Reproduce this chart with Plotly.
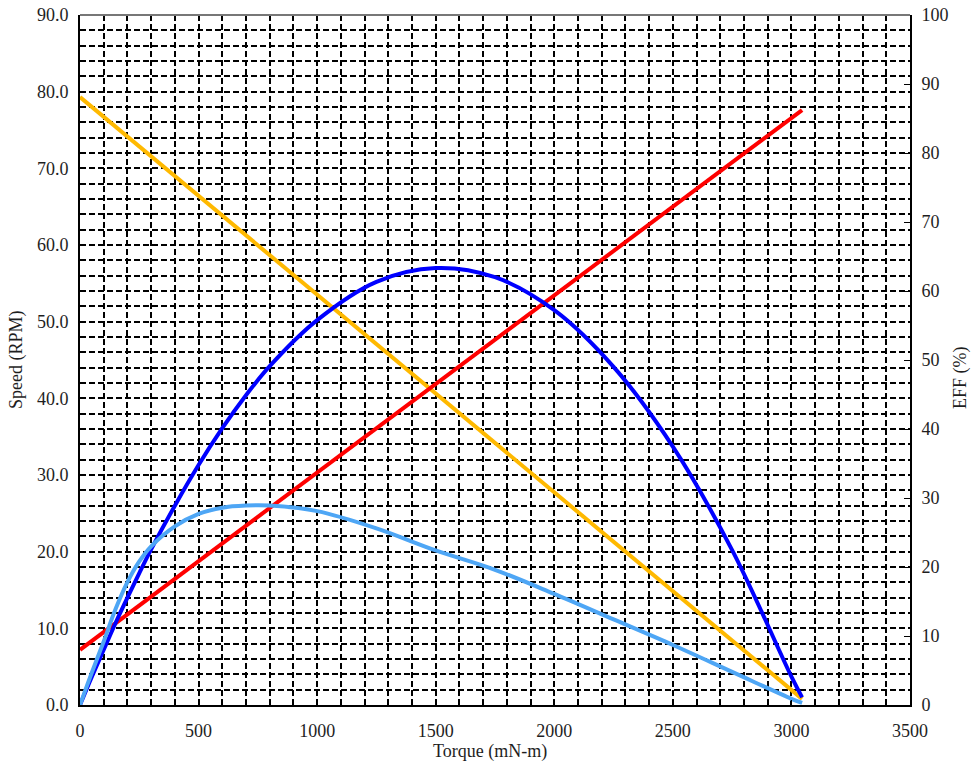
import plotly.graph_objects as go

# ---- data ----
torque_line = [0, 3045]
speed_rpm = [79.3, 0.8]          # orange, left axis
red_series = [7.2, 77.6]         # red, left axis

torque = [0, 50, 100, 150, 200, 250, 300, 400, 500, 600, 700, 800,
          1000, 1250, 1500, 1750, 2000, 2250, 2500, 2750, 3000, 3045]
power = [0, 3.7, 7.2, 10.7, 14.0, 17.2, 20.3, 26.0, 31.3, 36.1, 40.4, 44.2,
         50.2, 55.2, 57.0, 55.8, 51.5, 44.1, 33.7, 20.2, 3.7, 1.0]   # dark blue, left axis
eff_pct = [0, 4.7, 9.2, 13.9, 17.8, 20.8, 23.0, 25.9, 27.7, 28.6, 28.9, 28.9,
           28.1, 25.6, 22.4, 19.6, 16.1, 12.4, 8.7, 4.8, 0.9, 0.3]  # light blue, right axis

x_ticks = [0, 500, 1000, 1500, 2000, 2500, 3000, 3500]
left_ticks = [0, 10, 20, 30, 40, 50, 60, 70, 80, 90]
right_ticks = [0, 10, 20, 30, 40, 50, 60, 70, 80, 90, 100]

FONT = "Liberation Serif, Times New Roman, serif"
TXT = "#1e1e1e"
LW = 4

W, H = 975, 762
ML, MR, MT, MB = 80, 65, 15, 57
PW, PH = W - ML - MR, H - MT - MB


def px2paper_x(px):
    return (px - ML) / PW


def px2paper_y(py):
    return (H - MB - py) / PH


fig = go.Figure()
fig.add_trace(go.Scatter(x=torque_line, y=speed_rpm, mode="lines",
                         line=dict(color="#FFB900", width=LW), name="Speed"))
fig.add_trace(go.Scatter(x=torque_line, y=red_series, mode="lines",
                         line=dict(color="#FF0000", width=LW), name="Current"))
fig.add_trace(go.Scatter(x=torque, y=power, mode="lines",
                         line=dict(color="#0000FF", width=LW, shape="spline"), name="Power"))
fig.add_trace(go.Scatter(x=torque, y=eff_pct, mode="lines", yaxis="y2",
                         line=dict(color="#4EA6F5", width=LW, shape="spline"), name="EFF"))

grid = dict(showgrid=True, gridcolor="black", gridwidth=1.5, griddash="6px,3px")

fig.update_layout(
    width=W, height=H,
    margin=dict(l=ML, r=MR, t=MT, b=MB, autoexpand=False),
    paper_bgcolor="white", plot_bgcolor="white",
    showlegend=False,
    font=dict(family=FONT, size=18, color=TXT),
    xaxis=dict(range=[0, 3500], tickvals=x_ticks, ticks="inside", ticklen=5,
               tickcolor="black", showline=True, linecolor="black", linewidth=2,
               zeroline=False, ticklabelstandoff=8, automargin=False,
               minor=dict(dtick=100, tick0=0, **grid), **grid),
    yaxis=dict(range=[0, 90], tickvals=left_ticks, tickformat=".1f",
               ticks="inside", ticklen=5, tickcolor="black", ticklabelstandoff=6,
               showline=True, linecolor="black", linewidth=2, zeroline=False,
               automargin=False,
               minor=dict(dtick=2, tick0=0, **grid), **grid),
    yaxis2=dict(range=[0, 100], tickvals=right_ticks, overlaying="y", side="right",
                ticks="inside", ticklen=6, tickcolor="black", ticklabelstandoff=6,
                showline=True, linecolor="black", linewidth=2, zeroline=False,
                showgrid=False, automargin=False),
    shapes=[dict(type="line", xref="paper", yref="paper", x0=0, x1=1, y0=1, y1=1,
                 line=dict(color="#777777", width=2))],
    annotations=[
        dict(text="Torque (mN-m)", xref="paper", yref="paper",
             x=px2paper_x(490), y=px2paper_y(751), showarrow=False,
             xanchor="center", yanchor="middle"),
        dict(text="Speed (RPM)", xref="paper", yref="paper", textangle=-90,
             x=px2paper_x(16), y=px2paper_y(360), showarrow=False,
             xanchor="center", yanchor="middle"),
        dict(text="EFF (%)", xref="paper", yref="paper", textangle=-90,
             x=px2paper_x(960), y=px2paper_y(378), showarrow=False,
             xanchor="center", yanchor="middle"),
    ],
)

fig.write_html("out.html")
